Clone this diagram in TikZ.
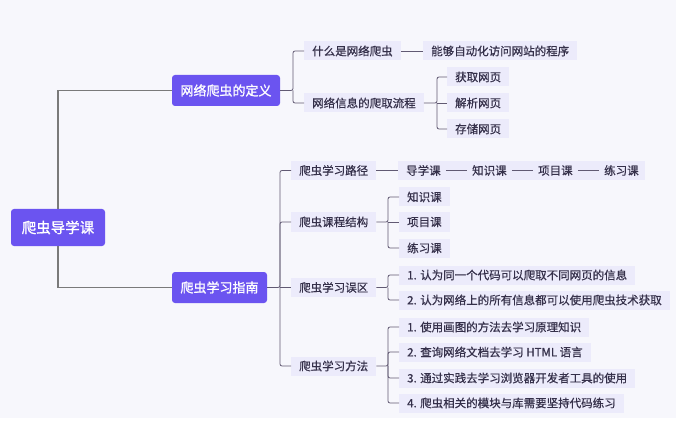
\documentclass[tikz,border=0pt]{standalone}
\usepackage{fontspec}
\setmainfont{Noto Sans CJK SC}
\newfontfamily\leaffont{Noto Sans CJK SC}[FakeBold=0.6]
\newfontfamily\mainfont{Noto Sans CJK SC}[FakeBold=1.2]
\definecolor{bgc}{HTML}{F7F7FC}
\definecolor{mainc}{HTML}{6B54F0}
\definecolor{subfill}{HTML}{ECEBFB}
\definecolor{txtc}{HTML}{35304A}
\definecolor{mainline}{HTML}{7A7A7A}
\definecolor{subline}{HTML}{615A73}
\tikzset{
  rootbox/.style={fill=mainc, text=white, rounded corners=3pt, minimum width=94pt, minimum height=37pt, inner sep=0pt, font=\mainfont\fontsize{14.5}{16}\selectfont},
  mainbox/.style={fill=mainc, text=white, rounded corners=3pt, minimum height=31pt, inner sep=0pt, font=\mainfont\fontsize{13}{15}\selectfont},
  leaf/.style={fill=subfill, text=txtc, anchor=west, minimum height=19pt, inner xsep=8pt, inner ysep=0pt, font=\leaffont\fontsize{11.5}{13}\selectfont},
  pathtxt/.style={text=txtc, anchor=west, inner xsep=0pt, inner ysep=0pt, font=\leaffont\fontsize{11.5}{13}\selectfont},
  mline/.style={draw=mainline, line width=1.5pt},
  sline/.style={draw=subline, line width=0.8pt, rounded corners=2pt},
}
\begin{document}
\begin{tikzpicture}[x=1pt,y=-1pt]
\useasboundingbox (0,0) rectangle (679,430);
\fill[bgc] (0,0) rectangle (676,418);

% root and main nodes
\node[rootbox] (root) at (58,227.5) {爬虫导学课};
\node[mainbox, minimum width=108pt] (def) at (226,90.5) {网络爬虫的定义};
\node[mainbox, minimum width=95pt] (guide) at (219.5,287.5) {爬虫学习指南};

\draw[mline] (root.north) |- (def.west);
\draw[mline] (root.south) |- (guide.west);

% definition branch
\node[leaf] (c1) at (304,51) {什么是网络爬虫};
\node[leaf] (c1b) at (423,51) {能够自动化访问网站的程序};
\node[leaf] (c2) at (304,103) {网络信息的爬取流程};
\node[leaf] (c21) at (447,77) {获取网页};
\node[leaf] (c22) at (447,103) {解析网页};
\node[leaf] (c23) at (447,129) {存储网页};

\coordinate (t1) at (293,90.5);
\draw[sline] (def.east) -- (t1) |- (c1.west);
\draw[sline] (t1) |- (c2.west);
\draw[sline] (c1.east) -- (c1b.west);
\coordinate (t2) at (437,103);
\draw[sline] (c2.east) -- (t2) |- (c21.west);
\draw[sline] (t2) |- (c23.west);
\draw[sline] (t2) -- (c22.west);

% guide branch
\node[leaf] (g1) at (291,170.5) {爬虫学习路径};
\node[leaf] (g2) at (291,222) {爬虫课程结构};
\node[leaf] (g3) at (291,287.5) {爬虫学习误区};
\node[leaf] (g4) at (291,366) {爬虫学习方法};

\coordinate (t3) at (280,287.5);
\draw[sline] (guide.east) -- (t3) |- (g1.west);
\draw[sline] (t3) |- (g4.west);
\draw[sline] (t3) |- (g2.west);
\draw[sline] (t3) -- (g3.west);

% path
\fill[subfill] (398,161) rectangle (645,180);
\node[pathtxt] (p1) at (406,170.5) {导学课};
\node[pathtxt] (p2) at (472,170.5) {知识课};
\node[pathtxt] (p3) at (538,170.5) {项目课};
\node[pathtxt] (p4) at (604,170.5) {练习课};
\coordinate (p0) at (398,170.5);
\draw[sline] (g1.east) -- (p0);
\draw[sline, shorten <=5pt, shorten >=5pt] (p1.east) -- (p2.west);
\draw[sline, shorten <=5pt, shorten >=5pt] (p2.east) -- (p3.west);
\draw[sline, shorten <=5pt, shorten >=5pt] (p3.east) -- (p4.west);

% course structure
\node[leaf] (g21) at (399,197) {知识课};
\node[leaf] (g22) at (399,222) {项目课};
\node[leaf] (g23) at (399,248) {练习课};
\coordinate (t4) at (388,222);
\draw[sline] (g2.east) -- (t4) |- (g21.west);
\draw[sline] (t4) |- (g23.west);
\draw[sline] (t4) -- (g22.west);

% misconceptions
\node[leaf] (g31) at (399,275) {1. 认为同一个代码可以爬取不同网页的信息};
\node[leaf] (g32) at (399,300) {2. 认为网络上的所有信息都可以使用爬虫技术获取};
\coordinate (t5) at (388,287.5);
\draw[sline] (g3.east) -- (t5) |- (g31.west);
\draw[sline] (t5) |- (g32.west);

% methods
\node[leaf] (g41) at (399,327) {1. 使用画图的方法去学习原理知识};
\node[leaf] (g42) at (399,352) {2. 查询网络文档去学习 HTML 语言};
\node[leaf] (g43) at (399,378) {3. 通过实践去学习浏览器开发者工具的使用};
\node[leaf] (g44) at (399,403) {4. 爬虫相关的模块与库需要坚持代码练习};
\coordinate (t6) at (388,366);
\draw[sline] (g4.east) -- (t6) |- (g41.west);
\draw[sline] (t6) |- (g44.west);
\draw[sline] (t6) |- (g42.west);
\draw[sline] (t6) |- (g43.west);
\end{tikzpicture}
\end{document}
